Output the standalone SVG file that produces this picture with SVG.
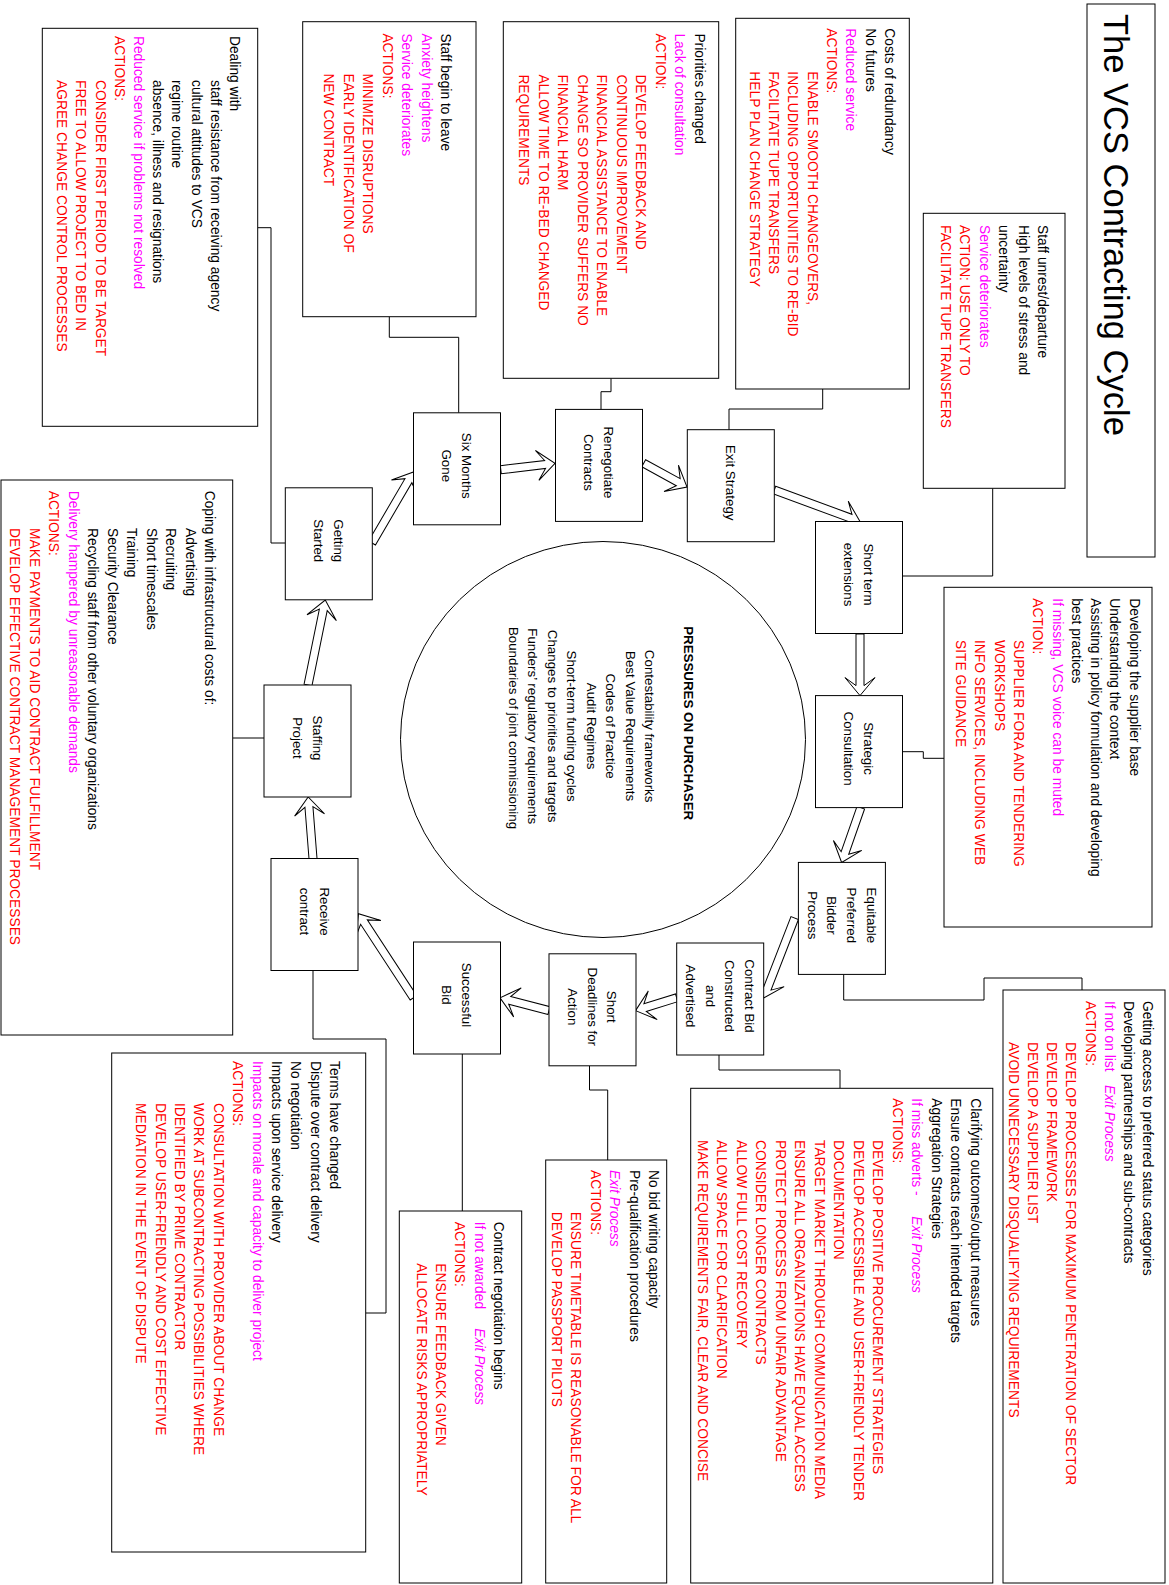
<svg xmlns="http://www.w3.org/2000/svg" width="1169" height="1585" viewBox="0 0 1169 1585">
<style>
.bx{fill:#fff;stroke:#000;stroke-width:1}
.nd{fill:#fff;stroke:#000;stroke-width:1}
.cn{fill:none;stroke:#000;stroke-width:1}
.ar{fill:#fff;stroke:#000;stroke-width:1}
text{font-family:"Liberation Sans",Arial,sans-serif;font-size:13.33px;fill:#000}
.at{font-size:13.8px}
.nl{text-anchor:middle}
.m{fill:#ff00ff}
.r{fill:#ff0000}
.i{font-style:italic}
.b{font-weight:bold}
</style>
<rect width="1169" height="1585" fill="#fff"/>

<g id="connectors">
<path class="cn" d="M822.7,389 V409 H729 V430"/>
<path class="cn" d="M992.7,488.3 V576 H902.5"/>
<path class="cn" d="M611,378.3 V391.7 H601 V409.4"/>
<path class="cn" d="M389.3,316.7 V337.3 H458.7 V412.8"/>
<path class="cn" d="M257.7,227.7 H271 V543 H285.3"/>
<path class="cn" d="M232.7,738 H264"/>
<path class="cn" d="M902.5,751.7 H923.3 V758.3 H944"/>
<path class="cn" d="M843.7,974.4 V1000 H984 V978 H1082 V990"/>
<path class="cn" d="M719,1055 V1070 H840 V1088.3"/>
<path class="cn" d="M589.5,1065.8 V1090 H607.7 V1160"/>
<path class="cn" d="M462.3,1054 V1211"/>
<path class="cn" d="M313,970.5 V1039 H386 V1313 H365.7"/>
<polygon class="ar" transform="translate(308,685) rotate(-78.5)" points="0,-4 76.7,-4 68.7,-15 86.7,0 68.7,15 76.7,4 0,4"/>
<polygon class="ar" transform="translate(372,543) rotate(-59.7)" points="0,-4 72.2,-4 64.2,-15 82.2,0 64.2,15 72.2,4 0,4"/>
<polygon class="ar" transform="translate(500.8,469.7) rotate(-6.7)" points="0,-4 44.6,-4 36.6,-15 54.6,0 36.6,15 44.6,4 0,4"/>
<polygon class="ar" transform="translate(643.7,463.3) rotate(28.7)" points="0,-4 39.4,-4 31.4,-15 49.4,0 31.4,15 39.4,4 0,4"/>
<polygon class="ar" transform="translate(774.3,490) rotate(20.2)" points="0,-4 81.3,-4 73.3,-15 91.3,0 73.3,15 81.3,4 0,4"/>
<polygon class="ar" transform="translate(860,634) rotate(90)" points="0,-4 51.6,-4 43.6,-15 61.6,0 43.6,15 51.6,4 0,4"/>
<polygon class="ar" transform="translate(860.8,807.7) rotate(109.3)" points="0,-4 48,-4 40,-15 58,0 40,15 48,4 0,4"/>
<polygon class="ar" transform="translate(794.7,918) rotate(111.2)" points="0,-4 75.8,-4 67.8,-15 85.8,0 67.8,15 75.8,4 0,4"/>
<polygon class="ar" transform="translate(676.7,997.8) rotate(162.7)" points="0,-4 33.1,-4 25.1,-15 43.1,0 25.1,15 33.1,4 0,4"/>
<polygon class="ar" transform="translate(549,1010.6) rotate(-165.4)" points="0,-4 40.6,-4 32.6,-15 50.6,0 32.6,15 40.6,4 0,4"/>
<polygon class="ar" transform="translate(413.5,997.8) rotate(-123.2)" points="0,-4 90.5,-4 82.5,-15 100.5,0 82.5,15 90.5,4 0,4"/>
<polygon class="ar" transform="translate(313,858.5) rotate(-94.5)" points="0,-4 51.7,-4 43.7,-15 61.7,0 43.7,15 51.7,4 0,4"/>
</g>

<g id="title">
<rect class="bx" x="1087" y="4" width="68" height="553"/>
<text transform="translate(1155,4) rotate(90)" x="10" y="51" style="font-size:34.5px">The VCS Contracting Cycle</text>
</g>

<g id="pressures">
<ellipse cx="603" cy="739.5" rx="202.5" ry="198" fill="#fff" stroke="#000" stroke-width="1"/>
<text transform="rotate(90)" class="nl">
<tspan class="b" x="725" y="-684.4">PRESSURES ON PURCHASER</tspan>
<tspan x="728" y="-645.4">Contestability frameworks</tspan>
<tspan x="728" y="-625.9">Best Value Requirements</tspan>
<tspan x="728" y="-606.4">Codes of Practice</tspan>
<tspan x="728" y="-586.9">Audit Regimes</tspan>
<tspan x="728" y="-567.4">Short-term funding cycles</tspan>
<tspan x="728" y="-547.9">Changes to priorities and targets</tspan>
<tspan x="728" y="-528.4">Funders’ regulatory requirements</tspan>
<tspan x="728" y="-508.9">Boundaries of joint commissioning</tspan>
</text>
</g>

<g id="n-getting-started">
<rect class="nd" x="285.3" y="487.8" width="87" height="112"/>
<text transform="rotate(90)" class="nl"><tspan x="540.8" y="-333.85">Getting</tspan><tspan x="540.8" y="-314.15">Started</tspan></text>
</g>
<g id="n-six-months">
<rect class="nd" x="413.5" y="412.8" width="87" height="112"/>
<text transform="rotate(90)" class="nl"><tspan x="465.8" y="-462.05">Six Months</tspan><tspan x="465.8" y="-442.35">Gone</tspan></text>
</g>
<g id="n-renegotiate">
<rect class="nd" x="555.5" y="409.4" width="87" height="112"/>
<text transform="rotate(90)" class="nl"><tspan x="462.4" y="-604.05">Renegotiate</tspan><tspan x="462.4" y="-584.35">Contracts</tspan></text>
</g>
<g id="n-exit">
<rect class="nd" x="687.3" y="429.7" width="87" height="112"/>
<text transform="rotate(90)" class="nl"><tspan x="482.7" y="-726">Exit Strategy</tspan></text>
</g>
<g id="n-short-term">
<rect class="nd" x="815.5" y="521.5" width="87" height="112"/>
<text transform="rotate(90)" class="nl"><tspan x="574.5" y="-864.05">Short term</tspan><tspan x="574.5" y="-844.35">extensions</tspan></text>
</g>
<g id="n-strategic">
<rect class="nd" x="815.5" y="695.6" width="87" height="112"/>
<text transform="rotate(90)" class="nl"><tspan x="748.6" y="-864.05">Strategic</tspan><tspan x="748.6" y="-844.35">Consultation</tspan></text>
</g>
<g id="n-equitable">
<rect class="nd" x="798.4" y="862.4" width="87" height="112"/>
<text transform="rotate(90)" class="nl"><tspan x="915.4" y="-866.65">Equitable</tspan><tspan x="915.4" y="-846.95">Preferred</tspan><tspan x="915.4" y="-827.25">Bidder</tspan><tspan x="915.4" y="-807.55">Process</tspan></text>
</g>
<g id="n-contract-bid">
<rect class="nd" x="676.7" y="943" width="87" height="112"/>
<text transform="rotate(90)" class="nl"><tspan x="996" y="-744.95">Contract Bid</tspan><tspan x="996" y="-725.25">Constructed</tspan><tspan x="996" y="-705.55">and</tspan><tspan x="996" y="-685.85">Advertised</tspan></text>
</g>
<g id="n-short-deadlines">
<rect class="nd" x="549" y="953.8" width="87" height="112"/>
<text transform="rotate(90)" class="nl"><tspan x="1006.8" y="-607.4">Short</tspan><tspan x="1006.8" y="-587.7">Deadlines for</tspan><tspan x="1006.8" y="-568">Action</tspan></text>
</g>
<g id="n-successful">
<rect class="nd" x="413.5" y="942" width="87" height="112"/>
<text transform="rotate(90)" class="nl"><tspan x="995" y="-462.05">Successful</tspan><tspan x="995" y="-442.35">Bid</tspan></text>
</g>
<g id="n-receive">
<rect class="nd" x="271" y="858.5" width="87" height="112"/>
<text transform="rotate(90)" class="nl"><tspan x="911.5" y="-319.55">Receive</tspan><tspan x="911.5" y="-299.85">contract</tspan></text>
</g>
<g id="n-staffing">
<rect class="nd" x="264" y="685" width="87" height="112"/>
<text transform="rotate(90)" class="nl"><tspan x="738" y="-312.55">Staffing</tspan><tspan x="738" y="-292.85">Project</tspan></text>
</g>

<g id="a-staff-unrest">
<rect class="bx" x="923.3" y="213.3" width="141.7" height="275"/>
<text class="at" transform="translate(1065,213.3) rotate(90)">
<tspan x="11.7" y="27.1">Staff unrest/departure</tspan>
<tspan x="11.7" y="46.5">High levels of stress and</tspan>
<tspan x="11.7" y="65.9">uncertainty</tspan>
<tspan x="11.7" y="85.3" class="m">Service deteriorates</tspan>
<tspan x="11.7" y="104.7" class="r">ACTION: USE ONLY TO</tspan>
<tspan x="11.7" y="124.1" class="r">FACILITATE TUPE TRANSFERS</tspan>
</text>
</g>

<g id="a-costs">
<rect class="bx" x="735.7" y="18.3" width="173.6" height="370.7"/>
<text class="at" transform="translate(909.3,18.3) rotate(90)">
<tspan x="10" y="24.4">Costs of redundancy</tspan>
<tspan x="10" y="43.7">No futures</tspan>
<tspan x="10" y="63" class="m">Reduced service</tspan>
<tspan x="10" y="82.3" class="r">ACTIONS:</tspan>
<tspan x="53" y="101.6" class="r">ENABLE SMOOTH CHANGEOVERS,</tspan>
<tspan x="53" y="120.9" class="r">INCLUDING OPPORTUNITIES TO RE-BID</tspan>
<tspan x="53" y="140.2" class="r">FACILITATE TUPE TRANSFERS</tspan>
<tspan x="53" y="159.5" class="r">HELP PLAN CHANGE STRATEGY</tspan>
</text>
</g>

<g id="a-priorities">
<rect class="bx" x="503.3" y="21.7" width="215.4" height="356.6"/>
<text class="at" transform="translate(718.7,21.7) rotate(90)">
<tspan x="11.7" y="24">Priorities changed</tspan>
<tspan x="11.7" y="43.5" class="m">Lack of consultation</tspan>
<tspan x="11.7" y="63" class="r">ACTION:</tspan>
<tspan x="52.7" y="82.5" class="r">DEVELOP FEEDBACK AND</tspan>
<tspan x="52.7" y="102" class="r">CONTINUOUS IMPROVEMENT</tspan>
<tspan x="52.7" y="121.5" class="r">FINANCIAL ASSISTANCE TO ENABLE</tspan>
<tspan x="52.7" y="141" class="r">CHANGE SO PROVIDER SUFFERS NO</tspan>
<tspan x="52.7" y="160.5" class="r">FINANCIAL HARM</tspan>
<tspan x="52.7" y="180" class="r">ALLOW TIME TO RE-BED CHANGED</tspan>
<tspan x="52.7" y="199.5" class="r">REQUIREMENTS</tspan>
</text>
</g>

<g id="a-staff-begin">
<rect class="bx" x="302.7" y="21.7" width="173.3" height="295"/>
<text class="at" transform="translate(476,21.7) rotate(90)">
<tspan x="11.7" y="34.8">Staff begin to leave</tspan>
<tspan x="11.7" y="54.3" class="m">Anxiety heightens</tspan>
<tspan x="11.7" y="73.8" class="m">Service deteriorates</tspan>
<tspan x="11.7" y="93.3" class="r">ACTIONS:</tspan>
<tspan x="51.7" y="112.8" class="r">MINIMIZE DISRUPTIONS</tspan>
<tspan x="51.7" y="132.3" class="r">EARLY IDENTIFICATION OF</tspan>
<tspan x="51.7" y="151.8" class="r">NEW CONTRACT</tspan>
</text>
</g>

<g id="a-dealing">
<rect class="bx" x="42.3" y="28.3" width="215.4" height="398"/>
<text class="at" transform="translate(257.7,28.3) rotate(90)">
<tspan x="7.7" y="27.8">Dealing with</tspan>
<tspan x="51.7" y="47">staff resistance from receiving agency</tspan>
<tspan x="51.7" y="66.2">cultural attitudes to VCS</tspan>
<tspan x="51.7" y="85.4">regime routine</tspan>
<tspan x="51.7" y="104.6">absence, illness and resignations</tspan>
<tspan x="7.7" y="123.8" class="m">Reduced service if problems not resolved</tspan>
<tspan x="7.7" y="143" class="r">ACTIONS:</tspan>
<tspan x="51.7" y="162.2" class="r">CONSIDER FIRST PERIOD TO BE TARGET</tspan>
<tspan x="51.7" y="181.4" class="r">FREE TO ALLOW PROJECT TO BED IN</tspan>
<tspan x="51.7" y="200.6" class="r">AGREE CHANGE CONTROL PROCESSES</tspan>
</text>
</g>

<g id="a-coping">
<rect class="bx" x="1" y="480" width="231.7" height="555"/>
<text class="at" transform="translate(232.7,480) rotate(90)">
<tspan x="10.7" y="27.5">Coping with infrastructural costs of:</tspan>
<tspan x="48" y="47">Advertising</tspan>
<tspan x="48" y="66.5">Recruiting</tspan>
<tspan x="48" y="86">Short timescales</tspan>
<tspan x="48" y="105.5">Training</tspan>
<tspan x="48" y="125">Security Clearance</tspan>
<tspan x="48" y="144.5">Recycling staff from other voluntary organizations</tspan>
<tspan x="10.7" y="164" class="m">Delivery hampered by unreasonable demands</tspan>
<tspan x="10.7" y="183.5" class="r">ACTIONS:</tspan>
<tspan x="48" y="203" class="r">MAKE PAYMENTS TO AID CONTRACT FULFILLMENT</tspan>
<tspan x="48" y="222.5" class="r">DEVELOP EFFECTIVE CONTRACT MANAGEMENT PROCESSES</tspan>
</text>
</g>

<g id="a-developing">
<rect class="bx" x="944" y="587.3" width="208" height="339.7"/>
<text class="at" transform="translate(1152,587.3) rotate(90)">
<tspan x="11" y="22.3">Developing the supplier base</tspan>
<tspan x="11" y="41.6">Understanding the context</tspan>
<tspan x="11" y="60.9">Assisting in policy formulation and developing</tspan>
<tspan x="11" y="80.2">best practices</tspan>
<tspan x="11" y="99.5" class="m">If missing, VCS voice can be muted</tspan>
<tspan x="11" y="118.8" class="r">ACTION:</tspan>
<tspan x="52.7" y="138.1" class="r">SUPPLIER FORA AND TENDERING</tspan>
<tspan x="52.7" y="157.4" class="r">WORKSHOPS</tspan>
<tspan x="52.7" y="176.7" class="r">INFO SERVICES, INCLUDING WEB</tspan>
<tspan x="52.7" y="196" class="r">SITE GUIDANCE</tspan>
</text>
</g>

<g id="a-getting-access">
<rect class="bx" x="1003" y="990" width="162" height="593"/>
<text class="at" transform="translate(1165,990) rotate(90)">
<tspan x="11" y="21.8">Getting access to preferred status categories</tspan>
<tspan x="11" y="41">Developing partnerships and sub-contracts</tspan>
<tspan x="11" y="60.2" class="m">If not on list</tspan><tspan x="95" y="60.2" class="m i">Exit Process</tspan>
<tspan x="11" y="79.4" class="r">ACTIONS:</tspan>
<tspan x="52" y="98.6" class="r">DEVELOP PROCESSES FOR MAXIMUM PENETRATION OF SECTOR</tspan>
<tspan x="52" y="117.8" class="r">DEVELOP FRAMEWORK</tspan>
<tspan x="52" y="137" class="r">DEVELOP A SUPPLIER LIST</tspan>
<tspan x="52" y="156.2" class="r">AVOID UNNECESSARY DISQUALIFYING REQUIREMENTS</tspan>
</text>
</g>

<g id="a-clarifying">
<rect class="bx" x="690.7" y="1088.3" width="302.1" height="494.7"/>
<text class="at" transform="translate(992.8,1088.3) rotate(90)">
<tspan x="10" y="22">Clarifying outcomes/output measures</tspan>
<tspan x="10" y="41.5">Ensure contracts reach intended targets</tspan>
<tspan x="10" y="61">Aggregation Strategies</tspan>
<tspan x="10" y="80.5" class="m">If miss adverts -</tspan><tspan x="128" y="80.5" class="m i">Exit Process</tspan>
<tspan x="10" y="100" class="r">ACTIONS:</tspan>
<tspan x="51.7" y="119.5" class="r">DEVELOP POSITIVE PROCUREMENT STRATEGIES</tspan>
<tspan x="51.7" y="139" class="r">DEVELOP ACCESSIBLE AND USER-FRIENDLY TENDER</tspan>
<tspan x="51.7" y="158.5" class="r">DOCUMENTATION</tspan>
<tspan x="51.7" y="178" class="r">TARGET MARKET THROUGH COMMUNICATION MEDIA</tspan>
<tspan x="51.7" y="197.5" class="r">ENSURE ALL ORGANIZATIONS HAVE EQUAL ACCESS</tspan>
<tspan x="51.7" y="217" class="r">PROTECT PROCESS FROM UNFAIR ADVANTAGE</tspan>
<tspan x="51.7" y="236.5" class="r">CONSIDER LONGER CONTRACTS</tspan>
<tspan x="51.7" y="256" class="r">ALLOW FULL COST RECOVERY</tspan>
<tspan x="51.7" y="275.5" class="r">ALLOW SPACE FOR CLARIFICATION</tspan>
<tspan x="51.7" y="295" class="r">MAKE REQUIREMENTS FAIR, CLEAR AND CONCISE</tspan>
</text>
</g>

<g id="a-no-bid">
<rect class="bx" x="545.7" y="1160" width="121" height="423"/>
<text class="at" transform="translate(666.7,1160) rotate(90)">
<tspan x="10" y="17.5">No bid writing capacity</tspan>
<tspan x="10" y="37">Pre-qualification procedures</tspan>
<tspan x="10" y="56.5" class="m i">Exit Process</tspan>
<tspan x="10" y="76" class="r">ACTIONS:</tspan>
<tspan x="51.7" y="95.5" class="r">ENSURE TIMETABLE IS REASONABLE FOR ALL</tspan>
<tspan x="51.7" y="115" class="r">DEVELOP PASSPORT PILOTS</tspan>
</text>
</g>

<g id="a-negotiation">
<rect class="bx" x="399.3" y="1211" width="122.4" height="372"/>
<text class="at" transform="translate(521.7,1211) rotate(90)">
<tspan x="10.7" y="27.8">Contract negotiation begins</tspan>
<tspan x="10.7" y="47.1" class="m">If not awarded</tspan><tspan x="117.3" y="47.1" class="m i">Exit Process</tspan>
<tspan x="10.7" y="66.4" class="r">ACTIONS:</tspan>
<tspan x="52.3" y="85.7" class="r">ENSURE FEEDBACK GIVEN</tspan>
<tspan x="52.3" y="105" class="r">ALLOCATE RISKS APPROPRIATELY</tspan>
</text>
</g>

<g id="a-terms">
<rect class="bx" x="111.7" y="1053" width="254" height="499"/>
<text class="at" transform="translate(365.7,1053) rotate(90)">
<tspan x="8" y="35.5">Terms have changed</tspan>
<tspan x="8" y="54.9">Dispute over contract delivery</tspan>
<tspan x="8" y="74.3">No negotiation</tspan>
<tspan x="8" y="93.7">Impacts upon service delivery</tspan>
<tspan x="8" y="113.1" class="m">Impacts on morale and capacity to deliver project</tspan>
<tspan x="8" y="132.5" class="r">ACTIONS:</tspan>
<tspan x="50" y="151.9" class="r">CONSULTATION WITH PROVIDER ABOUT CHANGE</tspan>
<tspan x="50" y="171.3" class="r">WORK AT SUBCONTRACTING POSSIBILITIES WHERE</tspan>
<tspan x="50" y="190.7" class="r">IDENTIFIED BY PRIME CONTRACTOR</tspan>
<tspan x="50" y="210.1" class="r">DEVELOP USER-FRIENDLY AND COST EFFECTIVE</tspan>
<tspan x="50" y="229.5" class="r">MEDIATION IN THE EVENT OF DISPUTE</tspan>
</text>
</g>
</svg>
